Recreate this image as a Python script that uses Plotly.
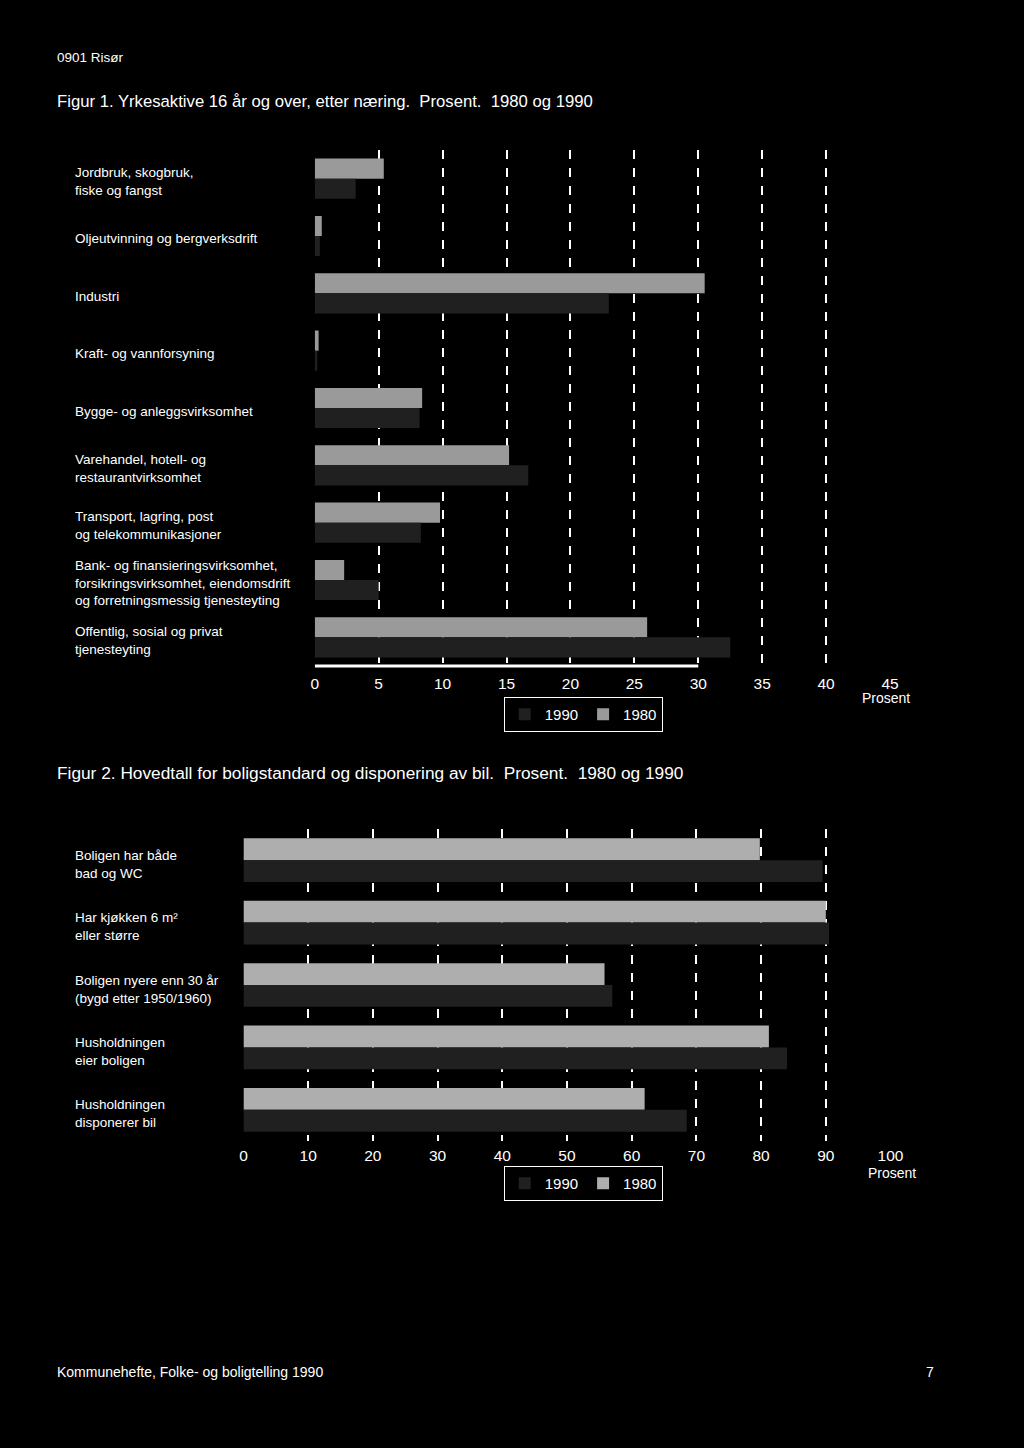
import plotly.graph_objects as go

W, H = 1024, 1448
FONT = "Liberation Sans, Arial, sans-serif"

# ---- Figure 1 data ----
naering = [
    "Jordbruk, skogbruk,<br>fiske og fangst",
    "Oljeutvinning og bergverksdrift",
    "Industri",
    "Kraft- og vannforsyning",
    "Bygge- og anleggsvirksomhet",
    "Varehandel, hotell- og<br>restaurantvirksomhet",
    "Transport, lagring, post<br>og telekommunikasjoner",
    "Bank- og finansieringsvirksomhet,<br>forsikringsvirksomhet, eiendomsdrift<br>og forretningsmessig tjenesteyting",
    "Offentlig, sosial og privat<br>tjenesteyting",
]
yrke_1980 = [5.4, 0.55, 30.5, 0.3, 8.4, 15.2, 9.8, 2.3, 26.0]
yrke_1990 = [3.2, 0.4, 23.0, 0.2, 8.2, 16.7, 8.3, 5.0, 32.5]
ticks1 = [0, 5, 10, 15, 20, 25, 30, 35, 40, 45]
grid1 = [5, 10, 15, 20, 25, 30, 35, 40]

# ---- Figure 2 data ----
bolig = [
    "Boligen har både<br>bad og WC",
    "Har kjøkken 6 m²<br>eller større",
    "Boligen nyere enn 30 år<br>(bygd etter 1950/1960)",
    "Husholdningen<br>eier boligen",
    "Husholdningen<br>disponerer bil",
]
bolig_1980 = [79.8, 90.0, 55.8, 81.2, 62.0]
bolig_1990 = [89.5, 90.5, 57.0, 84.0, 68.5]
ticks2 = [0, 10, 20, 30, 40, 50, 60, 70, 80, 90, 100]
grid2 = [10, 20, 30, 40, 50, 60, 70, 80, 90]

C1980_A = "#9a9a9a"
C1980_B = "#aeaeae"
C1990 = "#202020"

def px_x(p):
    return p / W

def px_y(p):
    return 1 - p / H

fig = go.Figure()

# Figure 1 traces (1980 first -> top bar in each group with reversed axis)
fig.add_trace(go.Bar(y=naering, x=yrke_1980, orientation="h", name="1980",
                     marker=dict(color=C1980_A, line=dict(width=0)),
                     xaxis="x", yaxis="y", legend="legend"))
fig.add_trace(go.Bar(y=naering, x=yrke_1990, orientation="h", name="1990",
                     marker=dict(color=C1990, line=dict(width=0)),
                     xaxis="x", yaxis="y", legend="legend"))
# Figure 2 traces
fig.add_trace(go.Bar(y=bolig, x=bolig_1980, orientation="h", name="1980",
                     marker=dict(color=C1980_B, line=dict(width=0)),
                     xaxis="x2", yaxis="y2", legend="legend2"))
fig.add_trace(go.Bar(y=bolig, x=bolig_1990, orientation="h", name="1990",
                     marker=dict(color=C1990, line=dict(width=0)),
                     xaxis="x2", yaxis="y2", legend="legend2"))

def xaxis_common(ticklen):
    return dict(
        showline=False, zeroline=False, showgrid=False,
        ticks="outside", ticklen=ticklen, tickcolor="black", tickwidth=1,
        tickfont=dict(family=FONT, size=15.5, color="white"),
        fixedrange=True,
    )

legend_common = dict(
    orientation="h", xanchor="center", yanchor="top",
    bgcolor="black", bordercolor="white", borderwidth=1,
    traceorder="reversed", font=dict(family=FONT, size=15, color="white"),
    itemwidth=30, tracegroupgap=0,
)

fig.update_layout(
    width=W, height=H,
    margin=dict(l=0, r=0, t=0, b=0),
    paper_bgcolor="black", plot_bgcolor="black",
    font=dict(family=FONT, color="white"),
    barmode="group", bargap=0.3, bargroupgap=0.0,
    xaxis=dict(domain=[px_x(316), px_x(901)], anchor="y", range=[0, 45],
               tickmode="array", tickvals=ticks1,
               minor=dict(tickmode="array", tickvals=grid1, showgrid=True,
                          gridcolor="white", gridwidth=2, griddash="dash", ticks=""),
               **xaxis_common(3)),
    yaxis=dict(domain=[px_y(666), px_y(150)], anchor="x", autorange="reversed",
               showticklabels=False, showgrid=False, zeroline=False, showline=False,
               ticks="", fixedrange=True),
    xaxis2=dict(domain=[px_x(243.5), px_x(901.5)], anchor="y2", range=[0, 100],
                tickmode="array", tickvals=ticks2,
                minor=dict(tickmode="array", tickvals=grid2, showgrid=True,
                           gridcolor="white", gridwidth=2, griddash="dash", ticks=""),
                **xaxis_common(0.5)),
    yaxis2=dict(domain=[px_y(1141), px_y(829)], anchor="x2", autorange="reversed",
                showticklabels=False, showgrid=False, zeroline=False, showline=False,
                ticks="", fixedrange=True),
    legend=dict(x=px_x(589), y=px_y(697), **legend_common),
    legend2=dict(x=px_x(589), y=px_y(1166), **legend_common),
    showlegend=True,
)

# baseline of figure 1 (0 to 30)
fig.add_shape(type="line", xref="x", yref="y domain", x0=0, x1=30, y0=0, y1=0,
              line=dict(color="white", width=3))

annotations = []
# category labels, left aligned
for cat in naering:
    annotations.append(dict(text=cat, xref="paper", yref="y", x=px_x(70), y=cat,
                            xanchor="left", yanchor="middle", showarrow=False, align="left",
                            yshift=-3, font=dict(family=FONT, size=13.5, color="white")))
for cat in bolig:
    annotations.append(dict(text=cat, xref="paper", yref="y2", x=px_x(70), y=cat,
                            xanchor="left", yanchor="middle", showarrow=False, align="left",
                            yshift=-4, font=dict(family=FONT, size=13.5, color="white")))

def txt(t, x, y, size, xanchor="left"):
    annotations.append(dict(text=t, xref="paper", yref="paper", x=px_x(x), y=px_y(y),
                            xanchor=xanchor, yanchor="middle", showarrow=False,
                            font=dict(family=FONT, size=size, color="white")))

txt("0901 Risør", 52, 58, 13.5)
txt("Figur 1. Yrkesaktive 16 år og over, etter næring.  Prosent.  1980 og 1990", 52, 102, 16.7)
txt("Figur 2. Hovedtall for boligstandard og disponering av bil.  Prosent.  1980 og 1990", 52, 773, 17.3)
txt("Prosent", 923, 698, 14, "right")
txt("Prosent", 929, 1173, 14, "right")
txt("Kommunehefte, Folke- og boligtelling 1990", 52, 1372, 14)
txt("7", 948, 1372, 14, "right")

fig.update_layout(annotations=annotations)

fig.write_html("out.html")
